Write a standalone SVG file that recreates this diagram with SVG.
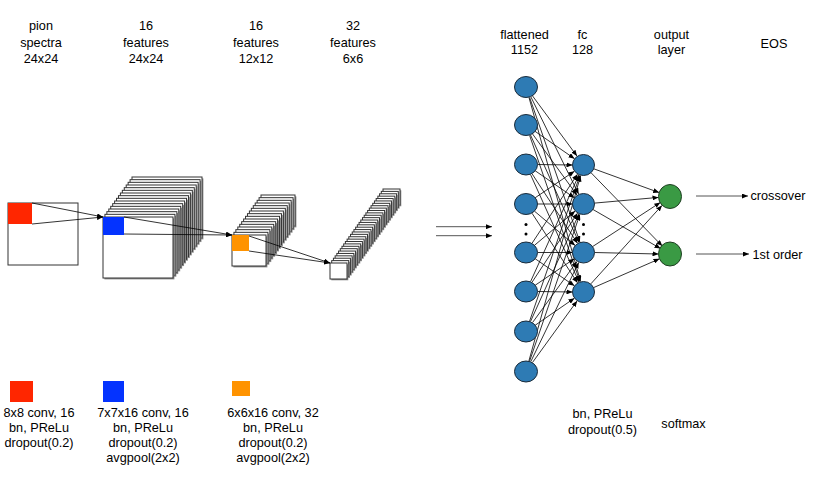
<svg xmlns="http://www.w3.org/2000/svg" xmlns:xlink="http://www.w3.org/1999/xlink" width="814" height="487" viewBox="0 0 814 487">
<style>
text{font-family:"Liberation Sans",Arial,Helvetica,sans-serif;font-size:12.7px;fill:#000;text-anchor:middle}
.st{text-anchor:start}
.sq{fill:#fff;stroke:#333;stroke-width:1}
.sh{fill:#8c8c8c}
.c{stroke:#000;stroke-width:0.8;fill:none;marker-end:url(#ah)}
.g{stroke:#555;stroke-width:1;fill:none;marker-end:url(#ah)}
.n{fill:#2e7bb4;stroke:#1c2c3a;stroke-width:1}
.o{fill:#3a9a44;stroke:#1f3f22;stroke-width:1}
.dot{fill:#000}
</style>
<defs>
<marker id="ah" markerWidth="6" markerHeight="5" refX="6" refY="2.5" orient="auto" markerUnits="userSpaceOnUse"><path d="M0,0L6,2.5L0,5z" fill="#000"/></marker>
<g id="r1"><rect class="sh" x="1.4" y="1.4" width="70" height="61"/><rect class="sq" width="70" height="61"/></g>
<g id="r2"><rect class="sh" x="1.4" y="1.4" width="34" height="31"/><rect class="sq" width="34" height="31"/></g>
<g id="r3"><rect class="sh" x="1.3" y="1.3" width="17" height="16"/><rect class="sq" width="17" height="16"/></g>
</defs>
<rect width="814" height="487" fill="#fff"/>

<g id="labels-top">
<text x="41" y="30">pion</text><text x="41" y="46.5">spectra</text><text x="41" y="62.5">24x24</text>
<text x="146" y="30">16</text><text x="146" y="46.5">features</text><text x="146" y="62.5">24x24</text>
<text x="256" y="30">16</text><text x="256" y="46.5">features</text><text x="256" y="62.5">12x12</text>
<text x="353" y="30">32</text><text x="353" y="46.5">features</text><text x="353" y="62.5">6x6</text>
<text x="524.5" y="38.5">flattened</text><text x="524.5" y="54">1152</text>
<text x="582.5" y="38.5">fc</text><text x="582.5" y="54">128</text>
<text x="671.5" y="38.5">output</text><text x="671.5" y="54">layer</text>
<text x="774" y="47.5">EOS</text>
</g>

<g id="input">
<rect class="sq" x="8" y="203" width="70" height="62"/>
</g>

<g id="conv1">
<use xlink:href="#r1" x="132" y="177"/><use xlink:href="#r1" x="130.07" y="179.67"/><use xlink:href="#r1" x="128.13" y="182.33"/><use xlink:href="#r1" x="126.2" y="185"/>
<use xlink:href="#r1" x="124.27" y="187.67"/><use xlink:href="#r1" x="122.33" y="190.33"/><use xlink:href="#r1" x="120.4" y="193"/><use xlink:href="#r1" x="118.47" y="195.67"/>
<use xlink:href="#r1" x="116.53" y="198.33"/><use xlink:href="#r1" x="114.6" y="201"/><use xlink:href="#r1" x="112.67" y="203.67"/><use xlink:href="#r1" x="110.73" y="206.33"/>
<use xlink:href="#r1" x="108.8" y="209"/><use xlink:href="#r1" x="106.87" y="211.67"/><use xlink:href="#r1" x="104.93" y="214.33"/><use xlink:href="#r1" x="103" y="217"/>
</g>

<g id="conv2">
<use xlink:href="#r2" x="261" y="195"/><use xlink:href="#r2" x="259.07" y="197.67"/><use xlink:href="#r2" x="257.13" y="200.33"/><use xlink:href="#r2" x="255.2" y="203"/>
<use xlink:href="#r2" x="253.27" y="205.67"/><use xlink:href="#r2" x="251.33" y="208.33"/><use xlink:href="#r2" x="249.4" y="211"/><use xlink:href="#r2" x="247.47" y="213.67"/>
<use xlink:href="#r2" x="245.53" y="216.33"/><use xlink:href="#r2" x="243.6" y="219"/><use xlink:href="#r2" x="241.67" y="221.67"/><use xlink:href="#r2" x="239.73" y="224.33"/>
<use xlink:href="#r2" x="237.8" y="227"/><use xlink:href="#r2" x="235.87" y="229.67"/><use xlink:href="#r2" x="233.93" y="232.33"/><use xlink:href="#r2" x="232" y="235"/>
</g>

<g id="conv3">
<use xlink:href="#r3" x="383" y="189"/><use xlink:href="#r3" x="381.29" y="191.39"/><use xlink:href="#r3" x="379.58" y="193.77"/><use xlink:href="#r3" x="377.87" y="196.16"/>
<use xlink:href="#r3" x="376.16" y="198.55"/><use xlink:href="#r3" x="374.45" y="200.94"/><use xlink:href="#r3" x="372.74" y="203.32"/><use xlink:href="#r3" x="371.03" y="205.71"/>
<use xlink:href="#r3" x="369.32" y="208.1"/><use xlink:href="#r3" x="367.61" y="210.48"/><use xlink:href="#r3" x="365.9" y="212.87"/><use xlink:href="#r3" x="364.19" y="215.26"/>
<use xlink:href="#r3" x="362.48" y="217.65"/><use xlink:href="#r3" x="360.77" y="220.03"/><use xlink:href="#r3" x="359.06" y="222.42"/><use xlink:href="#r3" x="357.35" y="224.81"/>
<use xlink:href="#r3" x="355.65" y="227.19"/><use xlink:href="#r3" x="353.94" y="229.58"/><use xlink:href="#r3" x="352.23" y="231.97"/><use xlink:href="#r3" x="350.52" y="234.35"/>
<use xlink:href="#r3" x="348.81" y="236.74"/><use xlink:href="#r3" x="347.1" y="239.13"/><use xlink:href="#r3" x="345.39" y="241.52"/><use xlink:href="#r3" x="343.68" y="243.9"/>
<use xlink:href="#r3" x="341.97" y="246.29"/><use xlink:href="#r3" x="340.26" y="248.68"/><use xlink:href="#r3" x="338.55" y="251.06"/><use xlink:href="#r3" x="336.84" y="253.45"/>
<use xlink:href="#r3" x="335.13" y="255.84"/><use xlink:href="#r3" x="333.42" y="258.23"/><use xlink:href="#r3" x="331.71" y="260.61"/><use xlink:href="#r3" x="330" y="263"/>
</g>

<g id="kernels">
<rect x="8" y="203" width="24" height="21" fill="#ff2600"/>
<rect x="103" y="217" width="21" height="18" fill="#0433ff"/>
<rect x="232" y="235" width="17" height="16" fill="#ff9300"/>
</g>

<g id="connectors">
<line class="c" x1="32" y1="203" x2="103" y2="217"/>
<line class="c" x1="32" y1="224" x2="103" y2="217"/>
<line class="c" x1="124" y1="217" x2="232" y2="235"/>
<line class="c" x1="124" y1="234" x2="232" y2="235"/>
<line class="c" x1="249" y1="236" x2="330" y2="263"/>
<line class="c" x1="249" y1="251" x2="330" y2="263"/>
<line class="g" x1="436" y1="226.7" x2="492" y2="226.7"/>
<line class="g" x1="436" y1="235.7" x2="492" y2="235.7"/>

<line class="c" x1="532.5" y1="95.9" x2="577" y2="156.1"/>
<line class="c" x1="530.9" y1="96.9" x2="578.6" y2="194.1"/>
<line class="c" x1="529.6" y1="97.4" x2="579.9" y2="242.1"/>
<line class="c" x1="529" y1="97.6" x2="580.5" y2="281.4"/>
<line class="c" x1="535" y1="131.3" x2="574.5" y2="158.7"/>
<line class="c" x1="532.5" y1="133.9" x2="577" y2="195.1"/>
<line class="c" x1="530.5" y1="135" x2="579" y2="242.5"/>
<line class="c" x1="529.6" y1="135.4" x2="579.9" y2="281.6"/>
<line class="c" x1="537.5" y1="164.5" x2="572.5" y2="165"/>
<line class="c" x1="535.1" y1="170.7" x2="574.4" y2="197.8"/>
<line class="c" x1="532" y1="173.7" x2="577.5" y2="243.3"/>
<line class="c" x1="530.5" y1="174.5" x2="579" y2="282"/>
<line class="c" x1="535.1" y1="197.8" x2="574.4" y2="171.2"/>
<line class="c" x1="537.5" y1="204" x2="572.5" y2="204"/>
<line class="c" x1="534.4" y1="211.1" x2="575.1" y2="245.4"/>
<line class="c" x1="532" y1="213.2" x2="577.5" y2="282.8"/>
<line class="c" x1="532" y1="243.3" x2="577.5" y2="174.2"/>
<line class="c" x1="534.4" y1="245.4" x2="575.1" y2="211.1"/>
<line class="c" x1="537.5" y1="252.5" x2="572.5" y2="252.5"/>
<line class="c" x1="535.1" y1="258.7" x2="574.4" y2="285.8"/>
<line class="c" x1="530.6" y1="281.5" x2="578.9" y2="175"/>
<line class="c" x1="532" y1="282.3" x2="577.5" y2="213.2"/>
<line class="c" x1="535.1" y1="285.3" x2="574.4" y2="258.7"/>
<line class="c" x1="537.5" y1="291.5" x2="572.5" y2="292"/>
<line class="c" x1="529.6" y1="321.1" x2="579.9" y2="175.4"/>
<line class="c" x1="530.5" y1="321.5" x2="579" y2="214"/>
<line class="c" x1="532.5" y1="322.6" x2="577" y2="261.4"/>
<line class="c" x1="535.1" y1="325.3" x2="574.4" y2="298.2"/>
<line class="c" x1="528.9" y1="360.9" x2="580.6" y2="175.6"/>
<line class="c" x1="529.6" y1="361.1" x2="579.9" y2="214.4"/>
<line class="c" x1="530.8" y1="361.6" x2="578.7" y2="262.4"/>
<line class="c" x1="532.4" y1="362.6" x2="577.1" y2="300.9"/>

<line class="c" x1="593.8" y1="168.8" x2="659.2" y2="192.6"/>
<line class="c" x1="591.2" y1="172.9" x2="662.3" y2="246.1"/>
<line class="c" x1="594.5" y1="203.1" x2="658.5" y2="197.4"/>
<line class="c" x1="593" y1="209.5" x2="660.5" y2="248.5"/>
<line class="c" x1="592.7" y1="246.5" x2="660.3" y2="202.5"/>
<line class="c" x1="594.5" y1="252.5" x2="658.5" y2="254"/>
<line class="c" x1="590.9" y1="283.8" x2="662" y2="205.4"/>
<line class="c" x1="593.6" y1="287.6" x2="659.5" y2="258.8"/>

<line class="g" x1="696" y1="196" x2="748" y2="196"/>
<line class="g" x1="696" y1="254" x2="749" y2="254"/>
</g>

<g id="flattened">
<ellipse class="n" cx="526" cy="87" rx="11.5" ry="10.5"/>
<ellipse class="n" cx="526" cy="125" rx="11.5" ry="10.5"/>
<ellipse class="n" cx="526" cy="164.5" rx="11.5" ry="10.5"/>
<ellipse class="n" cx="526" cy="204" rx="11.5" ry="10.5"/>
<ellipse class="n" cx="526" cy="252.5" rx="11.5" ry="10.5"/>
<ellipse class="n" cx="526" cy="291.5" rx="11.5" ry="10.5"/>
<ellipse class="n" cx="526" cy="331.5" rx="11.5" ry="10.5"/>
<ellipse class="n" cx="526" cy="371.5" rx="11.5" ry="10.5"/>
<circle class="dot" cx="526" cy="224.5" r="1.5"/>
<circle class="dot" cx="526" cy="234" r="1.5"/>
</g>

<g id="fc">
<ellipse class="n" cx="583.5" cy="165" rx="11" ry="10.5"/>
<ellipse class="n" cx="583.5" cy="204" rx="11" ry="10.5"/>
<ellipse class="n" cx="583.5" cy="252.5" rx="11" ry="10.5"/>
<ellipse class="n" cx="583.5" cy="292" rx="11" ry="10.5"/>
<circle class="dot" cx="583.5" cy="224.5" r="1.5"/>
<circle class="dot" cx="583.5" cy="234" r="1.5"/>
</g>

<g id="output">
<ellipse class="o" cx="670" cy="196.5" rx="11.5" ry="12"/>
<ellipse class="o" cx="670" cy="254" rx="11.5" ry="12"/>
</g>

<g id="eos">
<text class="st" x="750.5" y="199.5">crossover</text>
<text class="st" x="752.5" y="258.5">1st order</text>
</g>

<g id="legend">
<rect x="10" y="381" width="23" height="21" fill="#ff2600"/>
<rect x="103" y="381" width="21" height="21" fill="#0433ff"/>
<rect x="232" y="381" width="18" height="15" fill="#ff9300"/>
<text x="39" y="416.5">8x8 conv, 16</text><text x="39" y="431.5">bn, PReLu</text><text x="39" y="446.5">dropout(0.2)</text>
<text x="143" y="416.5">7x7x16 conv, 16</text><text x="143" y="431.5">bn, PReLu</text><text x="143" y="446.5">dropout(0.2)</text><text x="143" y="461.5">avgpool(2x2)</text>
<text x="273" y="416.5">6x6x16 conv, 32</text><text x="273" y="431.5">bn, PReLu</text><text x="273" y="446.5">dropout(0.2)</text><text x="273" y="461.5">avgpool(2x2)</text>
<text x="602.5" y="418">bn, PReLu</text><text x="602.5" y="433.5">dropout(0.5)</text>
<text x="683.5" y="428">softmax</text>
</g>
</svg>
